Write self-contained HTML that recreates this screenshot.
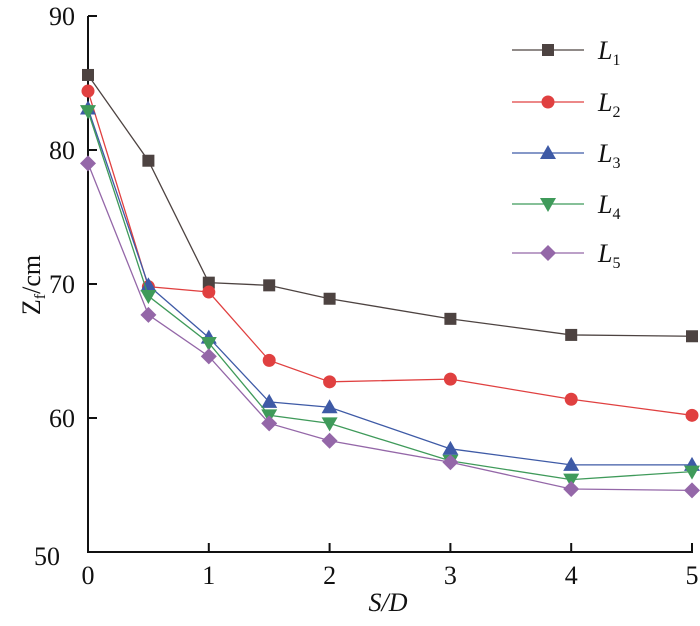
<!DOCTYPE html>
<html><head><meta charset="utf-8"><style>
body{margin:0;background:#fff}
</style></head><body>
<svg id="s" width="700" height="621" xmlns="http://www.w3.org/2000/svg" font-family="'Liberation Serif', 'DejaVu Serif', serif"></svg>
<script>
const s=document.getElementById('s');
const X=v=>88+v*120.8, Y=v=>552-(v-50)*13.4;
const F=`font-family="Liberation Serif, serif" fill="#111"`;
let h='';
h+=`<line x1="88" y1="16" x2="88" y2="552" stroke="#111" stroke-width="2"/><line x1="87" y1="552" x2="693" y2="552" stroke="#111" stroke-width="2"/>`;
for(let v=50;v<=90;v+=10){h+=`<line x1="88" y1="${Y(v)}" x2="97" y2="${Y(v)}" stroke="#111" stroke-width="2"/>`;
 h+=`<text ${F} x="${v==50?60:75}" y="${(v==50?Y(v)+13:Y(v)+9)}" font-size="26" text-anchor="end">${v}</text>`;}
for(let i=0;i<=5;i++){h+=`<line x1="${X(i)}" y1="552" x2="${X(i)}" y2="543" stroke="#111" stroke-width="2"/>`;
 h+=`<text ${F} x="${X(i)}" y="584" font-size="26" text-anchor="middle">${i}</text>`;}
h+=`<text ${F} x="388" y="611" font-size="26" text-anchor="middle" font-style="italic">S/D</text>`;
h+=`<text ${F} transform="translate(40,285) rotate(-90)" font-size="26" text-anchor="middle">Z<tspan font-size="16" dy="5">f</tspan><tspan dy="-5">/cm</tspan></text>`;
const xs=[0,0.5,1,1.5,2,3,4,5];
const S=[
["#4d4341","sq",[85.6,79.2,70.1,69.9,68.9,67.4,66.2,66.1]],
["#e04040","ci",[84.4,69.8,69.4,64.3,62.7,62.9,61.4,60.2]],
["#3e5aa6","tu",[83.1,69.9,66.0,61.2,60.8,57.7,56.5,56.5]],
["#3f9a5a","td",[82.9,69.1,65.6,60.2,59.6,56.8,55.4,56.0]],
["#9467a8","di",[79.0,67.7,64.6,59.6,58.3,56.7,54.7,54.6]]];
function mk(t,x,y,c){
 if(t=="sq")return `<rect x="${x-6}" y="${y-6}" width="12" height="12" fill="${c}"/>`;
 if(t=="ci")return `<circle cx="${x}" cy="${y}" r="6.5" fill="${c}"/>`;
 if(t=="tu")return `<polygon points="${x},${y-8} ${x+8},${y+6} ${x-8},${y+6}" fill="${c}"/>`;
 if(t=="td")return `<polygon points="${x},${y+8} ${x+8},${y-6} ${x-8},${y-6}" fill="${c}"/>`;
 return `<polygon points="${x},${y-8} ${x+8},${y} ${x},${y+8} ${x-8},${y}" fill="${c}"/>`;}
const ly=[50,102,153,204,253];
S.forEach((d,k)=>{const[c,t,v]=d;
 h+=`<polyline fill="none" stroke="${c}" stroke-width="1.3" points="${xs.map((x,i)=>X(x)+','+Y(v[i])).join(' ')}"/>`;
 xs.forEach((x,i)=>h+=mk(t,X(x),Y(v[i]),c));
 h+=`<line x1="512" y1="${ly[k]}" x2="584" y2="${ly[k]}" stroke="${c}" stroke-width="1.3"/>`+mk(t,548,ly[k],c);
 h+=`<text ${F} x="598" y="${ly[k]+9}" font-size="26" font-style="italic">L<tspan font-style="normal" font-size="16" dy="6">${k+1}</tspan></text>`;
});
s.innerHTML=h;
</script>
</body></html>
